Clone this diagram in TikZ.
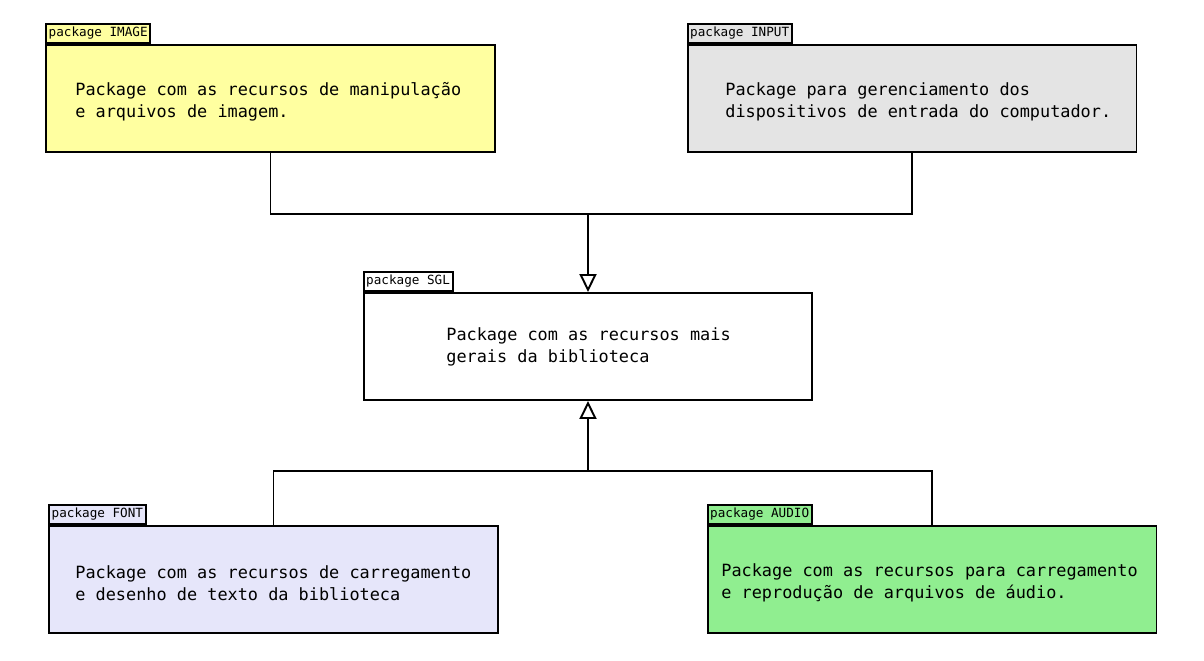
\documentclass[tikz,border=0pt]{standalone}
\usepackage{fontspec}
\newfontfamily\pkgfont{DejaVu Sans Mono}
\usetikzlibrary{arrows.meta}

\definecolor{imgyellow}{HTML}{FFFFA0}
\definecolor{inpgrey}{HTML}{E4E4E4}
\definecolor{fntblue}{HTML}{E6E6FA}
\definecolor{audgreen}{HTML}{90EE90}

\tikzset{
	pkgbox/.style={draw, line width=1.1pt, minimum width=8.98cm, minimum height=2.14cm, inner sep=0pt},
	pkgtab/.style={draw, line width=1.1pt, anchor=south west, inner xsep=1.5pt, inner ysep=0pt, minimum height=0.39cm, font=\pkgfont\fontsize{7.2}{8}\selectfont},
	pkgtext/.style={anchor=west, align=left, inner sep=0pt, font=\pkgfont\fontsize{9.6}{12.5}\selectfont},
	link/.style={line width=1.1pt},
	inherit/.style={line width=1.1pt, -{Triangle[open, length=0.36cm, width=0.34cm, fill=white]}}
}

\begin{document}
\begin{tikzpicture}[x=0.02cm, y=-0.02cm]
	\useasboundingbox (0,0) rectangle (1204,660);
	
	% boxes
	\node [pkgbox, fill=imgyellow] (image) at (270.5,98.5) {};
	\node [pkgbox, fill=inpgrey] (input) at (912,98.5) {};
	\node [pkgbox, fill=white] (sgl) at (588,346.5) {};
	\node [pkgbox, fill=fntblue] (font) at (273.5,579.5) {};
	\node [pkgbox, fill=audgreen] (audio) at (932,579.5) {};
	
	% tabs
	\node [pkgtab, fill=imgyellow] (imagetab) at (image.north west) {package IMAGE};
	\node [pkgtab, fill=inpgrey] (inputtab) at (input.north west) {package INPUT};
	\node [pkgtab, fill=white] (sgltab) at (sgl.north west) {package SGL};
	\node [pkgtab, fill=fntblue] (fonttab) at (font.north west) {package FONT};
	\node [pkgtab, fill=audgreen] (audiotab) at (audio.north west) {package AUDIO};
	
	% texts
	\node [pkgtext] (imagetxt) at (75,102) {Package com as recursos de manipulação\\e arquivos de imagem.};
	\node [pkgtext] (inputtxt) at (725,102) {Package para gerenciamento dos\\dispositivos de entrada do computador.};
	\node [pkgtext] (sgltxt) at (446,347) {Package com as recursos mais\\gerais da biblioteca};
	\node [pkgtext] (fonttxt) at (75,583) {Package com as recursos de carregamento\\e desenho de texto da biblioteca};
	\node [pkgtext] (audiotxt) at (721,583) {Package com as recursos para carregamento\\e reprodução de arquivos de áudio.};
	
	% connectors
	\coordinate (jtop) at (588,214);
	\coordinate (jbot) at (588,471);
	\draw [link] (image.south) |- (jtop) -| (input.south);
	\draw [inherit] (jtop) -- (sgl.north);
	\draw [link] (font.north) |- (jbot) -| (audio.north);
	\draw [inherit] (jbot) -- (sgl.south);
	
\end{tikzpicture}
\end{document}
